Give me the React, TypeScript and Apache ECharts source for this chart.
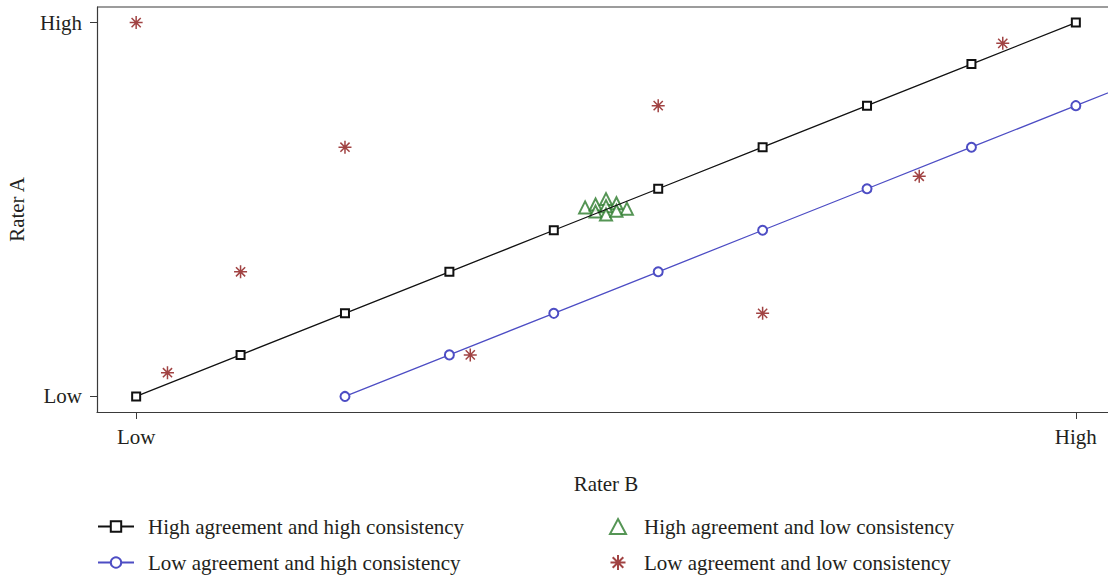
import React, { useEffect, useRef } from "react";
import * as echarts from "echarts";

const squareX = [0, 1, 2, 3, 4, 5, 6, 7, 8, 9];
const squareY = [0, 1, 2, 3, 4, 5, 6, 7, 8, 9];
const circleX = [2, 3, 4, 5, 6, 7, 8, 9, 10];
const circleY = [0, 1, 2, 3, 4, 5, 6, 7, 8];
const triangleX = [4.3, 4.4, 4.5, 4.6, 4.7, 4.4, 4.5, 4.5, 4.6];
const triangleY = [4.55, 4.62, 4.75, 4.65, 4.52, 4.45, 4.58, 4.38, 4.47];
const starX = [0, 0.3, 1, 2, 3.2, 5, 6, 7.5, 8.3];
const starY = [9, 0.57, 3, 6, 1, 7, 2, 5.3, 8.5];
const tickValues = [0, 9];
const tickLabels = ["Low", "High"];
const seriesNames = [
  "High agreement and high consistency",
  "Low agreement and high consistency",
  "High agreement and low consistency",
  "Low agreement and low consistency",
];

const AXIS_MIN = -0.375;
const AXIS_MAX = 9.375;
const FONT = "Liberation Serif";
const FS = 21;
const TXT = "#231f20";
const AX = "#3a3a3a";
const BLUE = "#4d4dc4";
const GREEN = "#2b7a2b";
const RED = "#8a1414";
const STAR =
  "path://M6,0L6,12M0,6L12,6M1.76,1.76L10.24,10.24M1.76,10.24L10.24,1.76";

const zip = (a: number[], b: number[]) => a.map((v, i) => [v, b[i]]);
const fmt = (v: number) => {
  const i = tickValues.indexOf(v);
  return i >= 0 ? tickLabels[i] : "";
};

export default function App() {
  const ref = useRef<HTMLDivElement>(null);
  useEffect(() => {
    if (!ref.current) return;
    const chart = echarts.init(ref.current, undefined, { renderer: "svg" });
    const legendText = {
      fontFamily: FONT,
      fontSize: FS,
      lineHeight: 20,
      color: TXT,
      padding: [0, 0, 0, 9],
    };
    const axisCommon = {
      type: "value",
      min: AXIS_MIN,
      max: AXIS_MAX,
      splitLine: { show: false },
      axisLine: { show: true, onZero: false, lineStyle: { color: AX, width: 1.2 } },
      axisTick: {
        show: true,
        length: 7,
        customValues: tickValues,
        lineStyle: { color: AX },
      },
      nameLocation: "middle",
      nameTextStyle: { fontFamily: FONT, fontSize: FS, color: TXT },
    };
    chart.setOption({
      animation: false,
      grid: {
        left: 97,
        top: 7,
        width: 1018,
        bottom: 166,
        outerBoundsMode: "none",
        containLabel: false,
      },
      xAxis: {
        ...axisCommon,
        position: "bottom",
        axisLabel: {
          customValues: tickValues,
          formatter: fmt,
          margin: 14,
          fontFamily: FONT,
          fontSize: FS,
          color: TXT,
        },
        name: "Rater B",
        nameGap: 61,
      },
      yAxis: {
        ...axisCommon,
        axisLabel: {
          customValues: tickValues,
          formatter: fmt,
          margin: 15,
          fontFamily: FONT,
          fontSize: FS,
          color: TXT,
        },
        name: "Rater A",
        nameGap: 70,
      },
      legend: [
        {
          data: [seriesNames[0], seriesNames[1]],
          orient: "vertical",
          left: 97,
          top: 516,
          height: 61,
          padding: 0,
          itemWidth: 36,
          itemHeight: 13,
          itemGap: 15,
          textStyle: legendText,
        },
        {
          data: [seriesNames[2], seriesNames[3]],
          orient: "vertical",
          left: 609,
          top: 516,
          height: 61,
          padding: 0,
          itemWidth: 16,
          itemHeight: 15,
          itemGap: 15,
          textStyle: { ...legendText, padding: [0, 0, 0, 13] },
        },
      ],
      series: [
        {
          name: seriesNames[0],
          type: "line",
          data: zip(squareX, squareY),
          symbol: "emptyRect",
          symbolSize: 8,
          lineStyle: { color: "#111", width: 1.3 },
          itemStyle: { color: "#111", borderWidth: 1.3 },
        },
        {
          name: seriesNames[1],
          type: "line",
          data: zip(circleX, circleY),
          symbol: "emptyCircle",
          symbolSize: 9,
          lineStyle: { color: BLUE, width: 1.3 },
          itemStyle: { color: BLUE, borderWidth: 1.3 },
        },
        {
          name: seriesNames[2],
          type: "scatter",
          data: zip(triangleX, triangleY),
          symbol: "emptyTriangle",
          symbolSize: 12,
          itemStyle: { color: GREEN, borderWidth: 1.4 },
        },
        {
          name: seriesNames[3],
          type: "scatter",
          data: zip(starX, starY),
          symbol: STAR,
          symbolSize: 13,
          itemStyle: {
            color: "transparent",
            borderColor: RED,
            borderWidth: 1.5,
          },
        },
      ],
    });
    // top frame line of the plot area, placed through the axis scales
    const tl = chart.convertToPixel({ gridIndex: 0 }, [AXIS_MIN, AXIS_MAX]) as number[];
    const tr = chart.convertToPixel({ gridIndex: 0 }, [AXIS_MAX, AXIS_MAX]) as number[];
    if (tl && tr) {
      chart.setOption({
        graphic: [
          {
            type: "line",
            shape: { x1: tl[0], y1: tl[1], x2: tr[0], y2: tr[1] },
            style: { stroke: AX, lineWidth: 1.2 },
            z: 10,
          },
        ],
      });
    }
    return () => chart.dispose();
  }, []);
  return (
    <div
      ref={ref}
      style={{ position: "absolute", left: 0, top: 0, width: 1108, height: 578 }}
    />
  );
}
